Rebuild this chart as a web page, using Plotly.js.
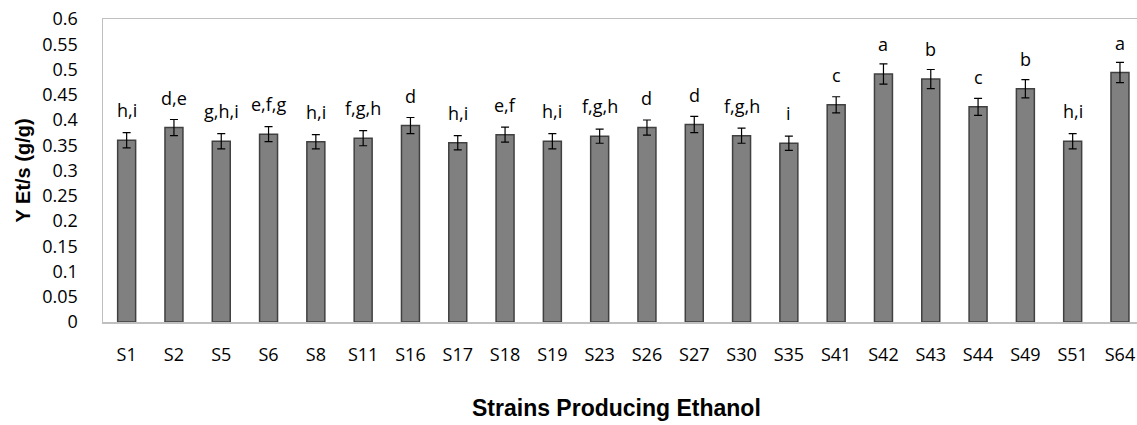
<!DOCTYPE html>
<html>
<head>
<meta charset="utf-8">
<script src="https://cdn.plot.ly/plotly-3.0.1.min.js"></script>
<style>html,body{margin:0;padding:0;background:#fff;}#chart{width:1137px;height:425px;}</style>
</head>
<body>
<div id="chart"></div>
<script>
const strains = ["S1","S2","S5","S6","S8","S11","S16","S17","S18","S19","S23","S26","S27","S30","S35","S41","S42","S43","S44","S49","S51","S64"];
const yieldValues = [0.360,0.385,0.358,0.372,0.357,0.364,0.389,0.355,0.371,0.358,0.368,0.385,0.391,0.369,0.354,0.430,0.491,0.481,0.426,0.462,0.358,0.494];
const errorValues = [0.015,0.016,0.015,0.015,0.014,0.015,0.016,0.014,0.015,0.015,0.014,0.015,0.016,0.015,0.014,0.016,0.020,0.019,0.017,0.018,0.015,0.020];
const groupLetters = ["h,i","d,e","g,h,i","e,f,g","h,i","f,g,h","d","h,i","e,f","h,i","f,g,h","d","d","f,g,h","i","c","a","b","c","b","h,i","a"];

const tickFont = {family: "Open Sans, sans-serif", size: 18, color: "#000"};

const barTrace = {
  type: "bar",
  x: strains,
  y: yieldValues,
  width: 0.38,
  marker: {color: "#808080", line: {color: "#404040", width: 1.5}},
  error_y: {type: "data", array: errorValues, visible: true, color: "#000", thickness: 1.2, width: 4},
  hoverinfo: "x+y"
};

const letterAnnotations = strains.map((s, i) => ({
  x: s, y: yieldValues[i], xref: "x", yref: "y",
  text: groupLetters[i], showarrow: false,
  yanchor: "bottom", yshift: 16,
  font: tickFont
}));

const layout = {
  width: 1137, height: 425,
  margin: {l: 103, r: 0, t: 19, b: 103},
  paper_bgcolor: "#fff", plot_bgcolor: "#fff",
  showlegend: false,
  bargap: 0.6,
  xaxis: {
    type: "category",
    range: [-0.5, 21.36],
    showline: true, linecolor: "#bfbfbf", linewidth: 1.5, mirror: true,
    showgrid: false, zeroline: false, ticks: "",
    tickfont: tickFont, ticklabelstandoff: 16
  },
  yaxis: {
    range: [0, 0.6], dtick: 0.05, tick0: 0,
    showline: true, linecolor: "#bfbfbf", linewidth: 1.5, mirror: false,
    showgrid: false, zeroline: false, ticks: "",
    tickfont: tickFont, ticklabelstandoff: 20
  },
  annotations: letterAnnotations.concat([
    {xref: "paper", yref: "paper", x: -0.0774, y: 0.5, textangle: -90, showarrow: false,
     text: "Y Et/s (g/g)", xanchor: "center", yanchor: "middle",
     font: {family: "Liberation Sans, Arial, sans-serif", size: 20, color: "#000", weight: "bold"}},
    {xref: "paper", yref: "paper", x: 0.497, y: -0.284, showarrow: false,
     text: "Strains Producing Ethanol", xanchor: "center", yanchor: "middle",
     font: {family: "Liberation Sans, Arial, sans-serif", size: 23, color: "#000", weight: "bold"}}
  ])
};

Plotly.newPlot("chart", [barTrace], layout, {displayModeBar: false, staticPlot: true});
</script>
</body>
</html>
